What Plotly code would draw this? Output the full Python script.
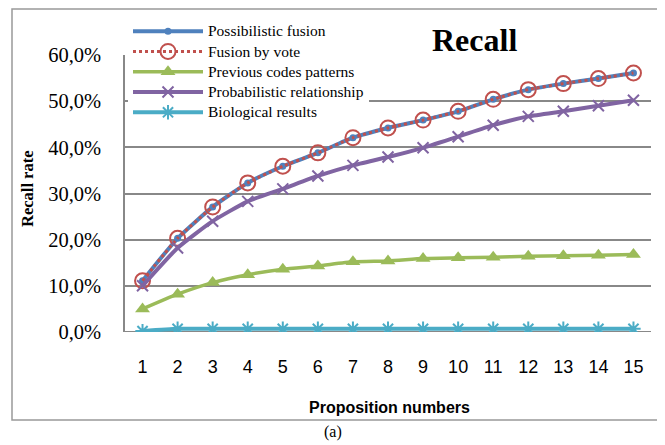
import plotly.graph_objects as go

propositions = list(range(1, 16))
possibilistic_fusion = [11.1, 20.3, 27.1, 32.3, 35.9, 38.8, 42.1, 44.2, 45.9, 47.8, 50.4, 52.5, 53.8, 54.9, 56.1]
fusion_by_vote = [11.1, 20.3, 27.1, 32.3, 35.9, 38.8, 42.1, 44.2, 45.9, 47.8, 50.4, 52.5, 53.8, 54.9, 56.1]
previous_codes = [5.0, 8.2, 10.7, 12.4, 13.6, 14.3, 15.2, 15.4, 15.9, 16.1, 16.2, 16.4, 16.5, 16.6, 16.8]
probabilistic_rel = [10.0, 18.2, 24.0, 28.3, 31.0, 33.8, 36.1, 37.9, 39.9, 42.3, 44.8, 46.7, 47.8, 49.0, 50.2]
biological = [0.2, 0.7, 0.7, 0.7, 0.7, 0.7, 0.7, 0.7, 0.7, 0.7, 0.7, 0.7, 0.7, 0.7, 0.7]
y_ticks = [0, 10, 20, 30, 40, 50, 60]
y_tick_labels = ["0,0%", "10,0%", "20,0%", "30,0%", "40,0%", "50,0%", "60,0%"]

LEG = '<span style="font-size:15.5px">{}</span>'

fig = go.Figure()
fig.add_trace(go.Scatter(x=propositions, y=possibilistic_fusion, name=LEG.format("Possibilistic fusion"),
    mode="lines+markers", line=dict(color="#4F81BD", width=4, shape="spline", smoothing=0.5),
    marker=dict(symbol="circle", size=7, color="#4F81BD")))
fig.add_trace(go.Scatter(x=propositions, y=fusion_by_vote, name=LEG.format("Fusion by vote"),
    mode="lines+markers", line=dict(color="#C0504D", width=3, dash="dot", shape="spline", smoothing=0.5),
    marker=dict(symbol="circle-open", size=15, color="#C0504D", line=dict(width=2))))
fig.add_trace(go.Scatter(x=propositions, y=previous_codes, name=LEG.format("Previous codes patterns"),
    mode="lines+markers", line=dict(color="#9BBB59", width=3.5, shape="spline", smoothing=0.5),
    marker=dict(symbol="triangle-up", size=13, color="#9BBB59")))
fig.add_trace(go.Scatter(x=propositions, y=probabilistic_rel, name=LEG.format("Probabilistic relationship"),
    mode="lines+markers", line=dict(color="#8064A2", width=4, shape="spline", smoothing=0.5),
    marker=dict(symbol="x-thin", size=11, color="#8064A2", line=dict(width=2, color="#8064A2"))))
fig.add_trace(go.Scatter(x=propositions, y=biological, name=LEG.format("Biological results"),
    mode="lines+markers", line=dict(color="#4BACC6", width=4, shape="spline", smoothing=0.5),
    marker=dict(symbol="asterisk", size=12, color="#4BACC6", line=dict(width=2, color="#4BACC6"))))

OFF = 8  # page body margin
W, H = 665 - OFF, 445 - OFF
L, R, T, B = 125 - OFF, 14, 55 - OFF, 113
pw, ph = W - L - R, H - T - B

def px_x(x):
    return (x - OFF - L) / pw

def px_y(y):
    return (H - B - (y - OFF)) / ph

fig.update_layout(
    width=W, height=H,
    margin=dict(l=L, r=R, t=T, b=B, autoexpand=False),
    paper_bgcolor="white", plot_bgcolor="white",
    showlegend=True,
    legend=dict(x=px_x(128), y=px_y(16), xanchor="left", yanchor="top",
                bgcolor="white", borderwidth=0,
                font=dict(family="Liberation Serif", size=13.3, color="black"),
                tracegroupgap=0, itemwidth=70),
    xaxis=dict(range=[0.5, 15.5], tickvals=propositions, showgrid=False, zeroline=False,
               showline=False, ticks="", ticklabelstandoff=22,
               tickfont=dict(family="Liberation Sans", size=18, color="black")),
    yaxis=dict(range=[0, 60], tickvals=y_ticks, ticktext=y_tick_labels,
               showgrid=True, gridcolor="#888888", gridwidth=1.5, zeroline=False,
               showline=True, linecolor="#888888", linewidth=1.5, ticks="", ticklabelstandoff=18,
               tickfont=dict(family="Liberation Serif", size=20.5, color="black")),
    shapes=[
        dict(type="line", xref="paper", yref="y", x0=0, x1=1, y0=0, y1=0,
             line=dict(color="#888888", width=2), layer="below"),
        dict(type="rect", xref="paper", yref="paper", x0=px_x(12), x1=px_x(661),
             y0=px_y(420), y1=px_y(9), line=dict(color="#999999", width=1.5)),
    ],
    annotations=[
        dict(text="<b>Recall</b>", xref="paper", yref="paper", x=px_x(474), y=px_y(40),
             xanchor="center", yanchor="middle",
             showarrow=False, bgcolor="white", borderpad=9,
             font=dict(family="Liberation Serif", size=32, color="black")),
        dict(text="<b>Recall rate</b>", xref="paper", yref="paper", x=px_x(27), y=px_y(189),
             xanchor="center", yanchor="middle",
             showarrow=False, textangle=-90,
             font=dict(family="Liberation Serif", size=16.5, color="black")),
        dict(text="<b>Proposition numbers</b>", xref="paper", yref="paper", x=px_x(389), y=px_y(407),
             xanchor="center", yanchor="middle", showarrow=False,
             font=dict(family="Liberation Sans", size=16, color="black")),
        dict(text="(a)", xref="paper", yref="paper", x=px_x(333), y=px_y(432),
             xanchor="center", yanchor="middle", showarrow=False,
             font=dict(family="Liberation Serif", size=16, color="black")),
    ],
)

fig.write_html("out.html")
